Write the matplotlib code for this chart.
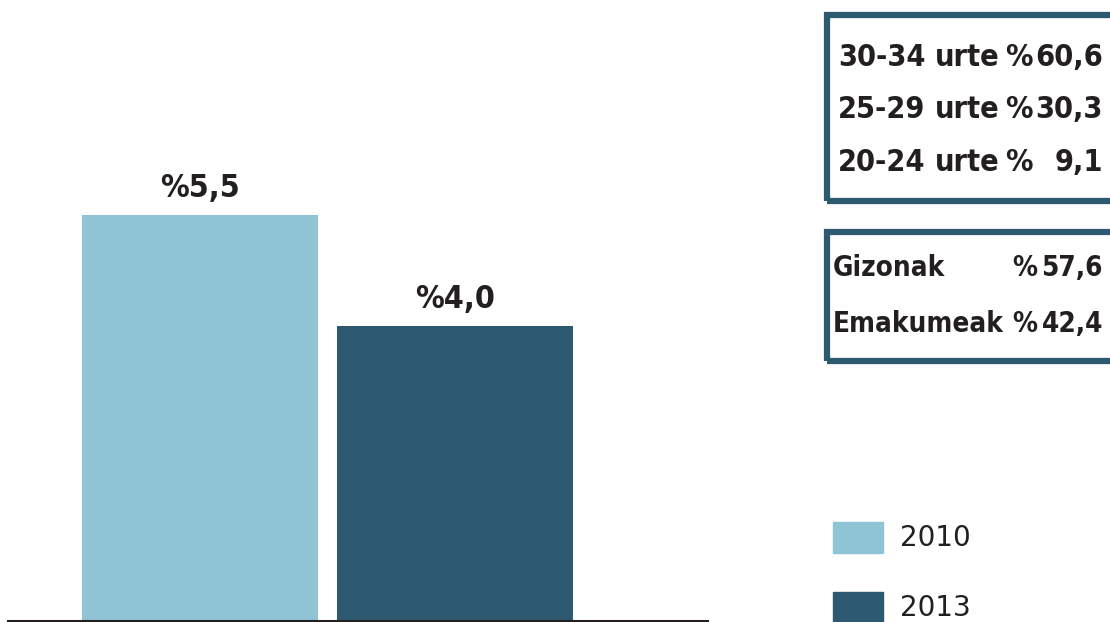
import matplotlib.pyplot as plt
from matplotlib.patches import Rectangle

years = ['2010', '2013']
rates = [5.5, 4.0]
bar_labels = ['%5,5', '%4,0']
colors = ['#8fc3d6', '#2c5870']

age_ranges = ['30-34', '25-29', '20-24']
age_values = ['60,6', '30,3', '9,1']
sex_groups = ['Gizonak', 'Emakumeak']
sex_values = ['57,6', '42,4']

box_color = '#2d5a70'
txt = dict(family='DejaVu Sans', fontstretch='condensed', fontweight='bold',
           color='#231f20')

fig = plt.figure(figsize=(11.1, 6.22), dpi=100)
W, H = 1110, 622

ax = fig.add_axes([8 / W, 1 / H, 699 / W, 621 / H])
x = [0, 1]
ax.bar(x, rates, width=0.925, color=colors)
ax.set_xlim(-0.753, 1.988)
ax.set_ylim(0, 621 / 73.8)
for xi, v, lab in zip(x, rates, bar_labels):
    ax.text(xi, v + 0.15, lab, ha='center', va='bottom', fontsize=23, **txt)
for s in ['top', 'right', 'left']:
    ax.spines[s].set_visible(False)
ax.spines['bottom'].set_linewidth(2.2)
ax.spines['bottom'].set_color('#231f20')
ax.set_xticks([])
ax.set_yticks([])


def px_rect(x0, y0, w, h):
    return Rectangle((x0 / W, 1 - (y0 + h) / H), w / W, h / H,
                     transform=fig.transFigure, fill=False,
                     edgecolor=box_color, linewidth=4.5, clip_on=False)


fig.add_artist(px_rect(826.5, 14.5, 320, 186))
fig.add_artist(px_rect(826.5, 232.5, 320, 128))

# age box: range | urte | % | value
for i, (g, v) in enumerate(zip(age_ranges, age_values)):
    y = 1 - (57 + 52.5 * i) / H
    fig.text(838 / W, y, g, ha='left', va='center', fontsize=22, **txt)
    fig.text(935 / W, y, 'urte', ha='left', va='center', fontsize=22, **txt)
    fig.text(1005 / W, y, '%', ha='left', va='center', fontsize=22, **txt)
    fig.text(1103 / W, y, v, ha='right', va='center', fontsize=22, **txt)

# sex box
for i, (g, v) in enumerate(zip(sex_groups, sex_values)):
    y = 1 - (268 + 56 * i) / H
    fig.text(833 / W, y, g, ha='left', va='center', fontsize=20, **txt)
    fig.text(1012 / W, y, '%', ha='left', va='center', fontsize=20, **txt)
    fig.text(1103 / W, y, v, ha='right', va='center', fontsize=20, **txt)

for i, (yr, c) in enumerate(zip(years, colors)):
    top = 522 + 70 * i
    fig.add_artist(Rectangle((833 / W, 1 - (top + 31) / H), 50 / W, 31 / H,
                             transform=fig.transFigure, color=c))
    fig.text(900 / W, 1 - (top + 16) / H, yr, ha='left', va='center',
             fontsize=20, color='#231f20', fontweight='medium')

fig.savefig('out.png', dpi=100)
